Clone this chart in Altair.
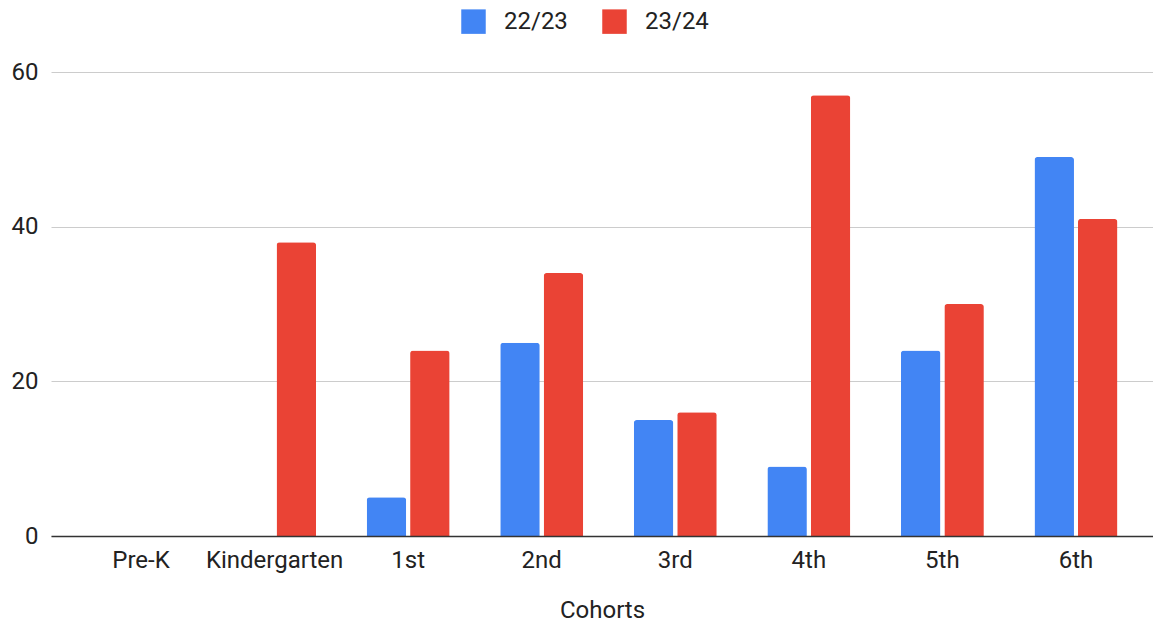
import altair as alt
import pandas as pd

categories = ["Pre-K", "Kindergarten", "1st", "2nd", "3rd", "4th", "5th", "6th"]
series = ["22/23", "23/24"]
values_2223 = [None, None, 5, 25, 15, 9, 24, 49]
values_2324 = [None, 38, 24, 34, 16, 57, 30, 41]
y_ticks = [0, 20, 40, 60]
colors = ["#4285F4", "#EA4335"]

rows = []
for cat, a, b in zip(categories, values_2223, values_2324):
    if a is not None:
        rows.append({"Cohort": cat, "Year": series[0], "Value": a})
    if b is not None:
        rows.append({"Cohort": cat, "Year": series[1], "Value": b})
df = pd.DataFrame(rows)

FONT = "Roboto"

chart = alt.Chart(df).mark_bar(
    cornerRadiusTopLeft=3, cornerRadiusTopRight=3
).encode(
    x=alt.X("Cohort:N",
            scale=alt.Scale(domain=categories, paddingInner=0.379,
                            paddingOuter=0.315, align=0.577),
            axis=alt.Axis(title="Cohorts", labelAngle=0, ticks=False,
                          domainColor="#333333", domainWidth=1.5,
                          labelPadding=12, titlePadding=26, zindex=1)),
    xOffset=alt.XOffset("Year:N", scale=alt.Scale(domain=series, paddingInner=0.09)),
    y=alt.Y("Value:Q",
            scale=alt.Scale(domain=[0, 60], nice=False),
            axis=alt.Axis(title=None, values=y_ticks, domain=False, ticks=False,
                          gridColor="#CCCCCC", gridWidth=1, labelPadding=13)),
    color=alt.Color("Year:N",
                    scale=alt.Scale(domain=series, range=colors),
                    legend=alt.Legend(title=None, orient="none", direction="horizontal",
                                      legendX=410, legendY=-63,
                                      symbolType="square", symbolSize=600,
                                      symbolStrokeWidth=0, labelOffset=18,
                                      columnPadding=34, labelFontSize=24,
                                      labelColor="#222222", labelFont=FONT)),
).properties(
    width=1102,
    height=464,
    autosize=alt.AutoSizeParams(type="none"),
    padding={"left": 43, "top": 64, "right": 0, "bottom": 88},
).configure_axis(
    labelFont=FONT, labelFontSize=24, labelColor="#222222",
    titleFont=FONT, titleFontSize=24, titleColor="#222222", titleFontWeight="normal",
).configure_view(stroke=None)

chart.save("out.html", embed_options={"renderer": "svg", "actions": False})
